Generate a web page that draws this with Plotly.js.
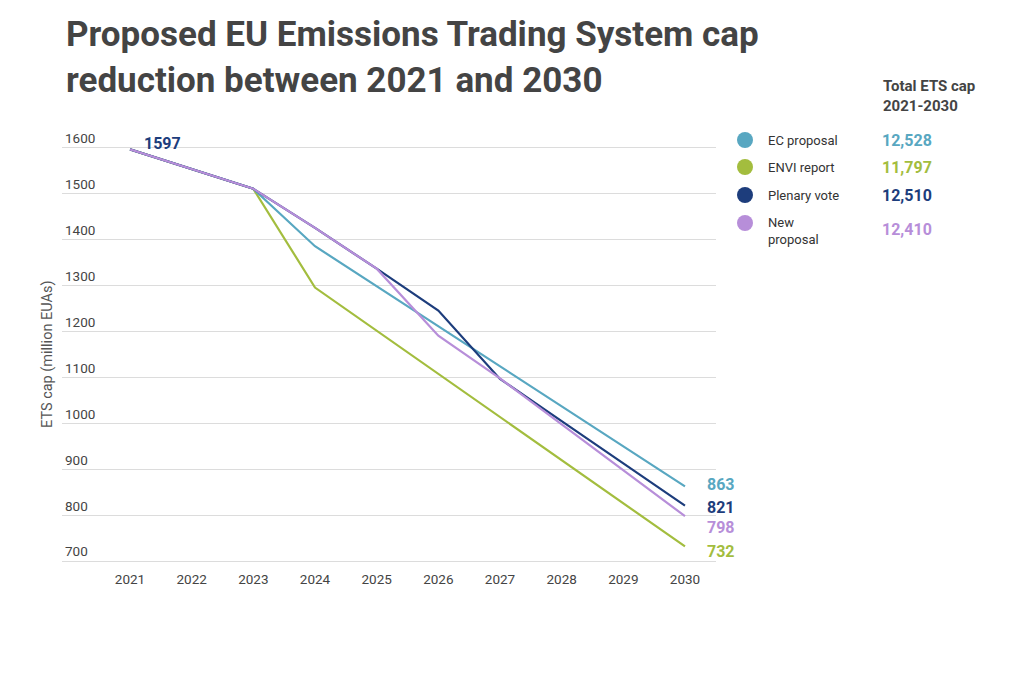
<!DOCTYPE html>
<html>
<head>
<meta charset="utf-8">
<script src="https://cdn.plot.ly/plotly-3.0.1.min.js"></script>
<style>html,body{margin:0;padding:0;background:#fff;}#chart{width:1024px;height:677px;}</style>
</head>
<body>
<div id="chart"></div>
<script>
// ---- data ----
const years = [2021, 2022, 2023, 2024, 2025, 2026, 2027, 2028, 2029, 2030];
const ecProposal   = [1597, 1554, 1511, 1386, 1299, 1212, 1124, 1037, 950, 863];
const enviReport   = [1597, 1554, 1511, 1296, 1202, 1108, 1014, 920, 826, 732];
const plenaryVote  = [1597, 1554, 1511, 1426, 1337, 1246, 1097, 1005, 913, 821];
const newProposal  = [1597, 1554, 1511, 1426, 1337, 1191, 1098, 998, 898, 798];
const seriesNames  = ["EC proposal", "ENVI report", "Plenary vote", "New\nproposal"];
const totals       = ["12,528", "11,797", "12,510", "12,410"];
const yTicks       = [700, 800, 900, 1000, 1100, 1200, 1300, 1400, 1500, 1600];

// ---- style ----
const colors = {ec: "#58a7c1", envi: "#a3bd3e", plen: "#1d3d7c", nw: "#b78ed9"};
const W = 1024, H = 677;
const M = {l: 62, r: 308, t: 130, b: 114};
const px = x => (x - M.l) / (W - M.l - M.r);
const py = y => (H - M.b - y) / (H - M.t - M.b);

const mk = (name, y, color) => ({
  x: years, y: y, name: name, type: "scatter", mode: "lines",
  line: {color: color, width: 2.2}, hoverinfo: "x+y+name", showlegend: false
});

const traces = [
  mk("ENVI report", enviReport, colors.envi),
  mk("EC proposal", ecProposal, colors.ec),
  mk("Plenary vote", plenaryVote, colors.plen),
  mk("New proposal", newProposal, colors.nw)
];

const endSeries = [
  {arr: ecProposal, color: colors.ec, dy: 2},
  {arr: plenaryVote, color: colors.plen, dy: -2},
  {arr: newProposal, color: colors.nw, dy: -11},
  {arr: enviReport, color: colors.envi, dy: -5}
];

const annotations = [];
// title
annotations.push({
  x: px(64), y: py(12), xref: "paper", yref: "paper",
  text: "<b>Proposed EU Emissions Trading System cap<br>reduction between 2021 and 2030</b>",
  showarrow: false, align: "left", xanchor: "left", yanchor: "top",
  font: {family: "Roboto", size: 35, color: "#444"}
});
endSeries.forEach(s => {
  const v = s.arr[s.arr.length - 1];
  annotations.push({
    x: years[years.length - 1], y: v, xref: "x", yref: "y",
    text: "<b>" + v + "</b>", showarrow: false, xanchor: "left", yanchor: "middle",
    xshift: 20, yshift: s.dy,
    font: {family: "Roboto", size: 16, color: s.color}
  });
});
annotations.push({
  x: years[0], y: plenaryVote[0], xref: "x", yref: "y",
  text: "<b>" + plenaryVote[0] + "</b>", showarrow: false, xanchor: "left", yanchor: "middle",
  xshift: 12, yshift: 6,
  font: {family: "Roboto", size: 16, color: colors.plen}
});
// y-axis title
annotations.push({
  x: px(47), y: py(355), xref: "paper", yref: "paper",
  text: "ETS cap (million EUAs)", textangle: -90, showarrow: false,
  xanchor: "center", yanchor: "middle",
  font: {family: "Roboto", size: 14.5, color: "#555"}
});
// legend header
annotations.push({
  x: px(881), y: py(75), xref: "paper", yref: "paper",
  text: "<b>Total ETS cap<br>2021-2030</b>", showarrow: false, align: "left",
  xanchor: "left", yanchor: "top",
  font: {family: "Roboto", size: 15, color: "#444"}
});
const legColors = [colors.ec, colors.envi, colors.plen, colors.nw];
const legY = [140, 167, 195, 229];
const shapes = [];
seriesNames.forEach((n, i) => {
  const cy = i === 3 ? 223 : legY[i];
  shapes.push({
    type: "circle", xref: "paper", yref: "paper",
    x0: px(737), x1: px(753), y0: py(cy + 8), y1: py(cy - 8),
    fillcolor: legColors[i], line: {width: 0}
  });
  annotations.push({
    x: px(766), y: py(i === 3 ? 231 : legY[i]), xref: "paper", yref: "paper",
    text: n.replace("\n", "<br>"), showarrow: false, align: "left",
    xanchor: "left", yanchor: "middle",
    font: {family: "Roboto", size: 13, color: "#333"}
  });
  annotations.push({
    x: px(880), y: py(legY[i]), xref: "paper", yref: "paper",
    text: "<b>" + totals[i] + "</b>", showarrow: false,
    xanchor: "left", yanchor: "middle",
    font: {family: "Roboto", size: 16, color: legColors[i]}
  });
});

const layout = {
  width: W, height: H,
  margin: M,
  paper_bgcolor: "#fff", plot_bgcolor: "#fff",
  xaxis: {
    range: [2019.897, 2030.503], tickvals: years, ticktext: years.map(String),
    showgrid: false, zeroline: false, showline: false, ticks: "",
    ticklabelstandoff: 6,
    tickfont: {family: "Roboto", size: 13.5, color: "#444"}, fixedrange: true
  },
  yaxis: {
    range: [696, 1639.1], tickvals: yTicks, ticktext: yTicks.map(String),
    ticklabelposition: "inside top",
    showgrid: true, gridcolor: "#dcdcdc", gridwidth: 1,
    zeroline: false, showline: false, ticks: "",
    tickfont: {family: "Roboto", size: 13.5, color: "#444"}, fixedrange: true
  },
  annotations: annotations,
  shapes: shapes,
  showlegend: false
};

Plotly.newPlot("chart", traces, layout, {displayModeBar: false, staticPlot: true});
</script>
</body>
</html>
